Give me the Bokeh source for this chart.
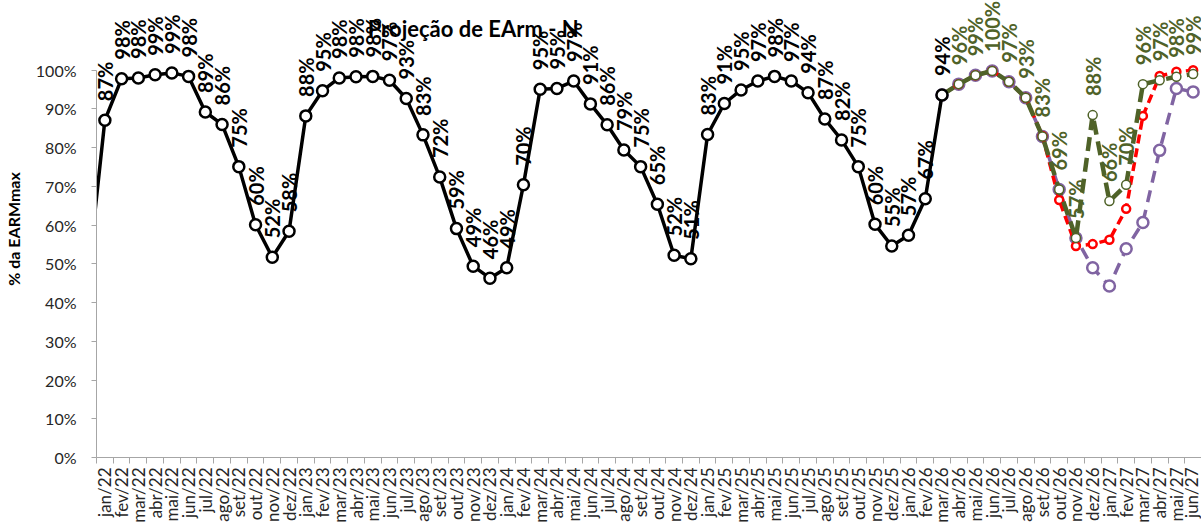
import math
from bokeh.plotting import figure
from bokeh.models import ColumnDataSource, LabelSet, Label, FixedTicker, NumeralTickFormatter, Range1d
from bokeh.core.properties import value
from bokeh.embed import file_html
from bokeh.resources import INLINE

# ---------------- data ----------------
month_names = ["jan", "fev", "mar", "abr", "mai", "jun", "jul", "ago", "set", "out", "nov", "dez"]
years = ["22", "23", "24", "25", "26", "27"]
categories = [f"{m}/{y}" for y in years for m in month_names][:66]   # jan/22 .. jun/27

# value of dez/21 (line enters from the left edge, point itself is off-axis)
earm_prev = [47.0]
# verified storage, jan/22 .. mar/26 (% EARmax)
earm_hist = [87.1, 97.8, 98.0, 98.8, 99.3, 98.4, 89.2, 86.0, 75.1, 60.1, 51.7, 58.4,
             88.2, 94.7, 98.0, 98.3, 98.4, 97.4, 92.7, 83.3, 72.4, 59.1, 49.4, 46.3,
             49.0, 70.4, 95.1, 95.3, 97.2, 91.3, 85.9, 79.4, 75.1, 65.4, 52.2, 51.3,
             83.4, 91.4, 94.9, 97.2, 98.4, 97.2, 94.2, 87.4, 82.0, 75.1, 60.2, 54.6,
             57.4, 66.8, 93.6]
# projections, mar/26 .. jun/27
proj_green = [93.6, 96.4, 98.7, 99.8, 97.0, 92.9, 82.9, 69.2, 56.7, 88.4, 66.2, 70.4, 96.4, 97.4, 98.3, 99.0]
proj_red = [93.6, 96.4, 98.7, 99.8, 97.0, 92.9, 83.0, 66.5, 54.6, 55.1, 56.2, 64.2, 88.2, 98.5, 99.6, 100.0]
proj_purple = [93.6, 96.4, 98.7, 99.8, 97.0, 92.9, 82.9, 69.2, 56.7, 49.0, 44.3, 53.9, 60.7, 79.3, 95.3, 94.4]
proj_start = categories.index("mar/26")

y_ticks = [0.0, 0.1, 0.2, 0.3, 0.4, 0.5, 0.6, 0.7, 0.8, 0.9, 1.0]
title_text = "Projeção de EArm - N"

# ---------------- figure ----------------
# frame spans the whole canvas height above the x axis; the visible value axis is bounded to 0..100%
p = figure(width=1201, height=525, x_range=Range1d(-0.5, 65.5), y_range=Range1d(0, 459 / 389),
           output_backend="svg", toolbar_location=None,
           min_border_left=93, min_border_right=0, min_border_top=0, min_border_bottom=66)
p.outline_line_color = None
p.grid.visible = False
p.background_fill_color = "white"

AX = "#a6a6a6"
FONT = "Lato"

xa = p.xaxis[0]
xa.ticker = FixedTicker(ticks=list(range(len(categories))),
                        minor_ticks=[i - 0.5 for i in range(len(categories) + 1)])
xa.major_label_overrides = {i: c for i, c in enumerate(categories)}
xa.major_label_orientation = math.pi / 2
xa.major_tick_out = 0
xa.major_tick_in = 0
xa.minor_tick_out = 6
xa.minor_tick_in = 0
xa.axis_line_color = AX
xa.minor_tick_line_color = AX
xa.major_label_text_font = FONT
xa.major_label_text_font_size = "17px"
xa.major_label_text_color = "#262626"
xa.major_label_standoff = 4

ya = p.yaxis[0]
ya.ticker = FixedTicker(ticks=y_ticks, minor_ticks=[])
ya.bounds = (0, 1)
ya.formatter = NumeralTickFormatter(format="0%")
ya.major_tick_out = 5
ya.major_tick_in = 0
ya.minor_tick_out = 0
ya.axis_line_color = AX
ya.major_tick_line_color = AX
ya.major_label_text_font = FONT
ya.major_label_text_font_size = "16px"
ya.major_label_text_color = "#262626"
ya.major_label_standoff = 15
ya.axis_label = "% da EARMmax"
ya.axis_label_text_font = FONT
ya.axis_label_text_font_style = "bold"
ya.axis_label_text_font_size = "16px"
ya.axis_label_text_color = "#000000"
ya.axis_label_standoff = 10

# ---------------- series ----------------
px = list(range(proj_start, proj_start + len(proj_green)))

def series(vals, xs, color, dash, lw, msize, mlw, fill):
    src = ColumnDataSource(dict(x=xs, y=[v / 100 for v in vals]))
    p.line("x", "y", source=src, line_color=color, line_width=lw, line_dash=dash)
    p.scatter("x", "y", source=src, marker="circle", size=msize, line_color=color,
              line_width=mlw, fill_color=fill)

series(proj_purple, px, "#8064A2", "12 8", 3.5, 11, 2.5, "white")
series(proj_red, px, "#FF0000", "9 5", 3.5, 8, 2.5, "white")
series(proj_green, px, "#4F6228", "14 7", 4.5, 9, 1.5, "white")

hx = [-1] + list(range(len(earm_hist)))
hv = earm_prev + earm_hist
hsrc = ColumnDataSource(dict(x=hx, y=[v / 100 for v in hv]))
p.line("x", "y", source=hsrc, line_color="black", line_width=3.5)
p.scatter("x", "y", source=hsrc, marker="circle", size=11, line_color="black",
          line_width=2.5, fill_color="white")

# ---------------- data labels ----------------
lab_h = ColumnDataSource(dict(x=list(range(len(earm_hist))), y=[v / 100 for v in earm_hist],
                              t=[f"{round(v)}%" for v in earm_hist]))
p.add_layout(LabelSet(x="x", y="y", text="t", source=lab_h, angle=math.pi / 2,
                      text_align="left", text_baseline="middle", y_offset=19,
                      text_font=value(FONT), text_font_style="bold", text_font_size="20px",
                      text_color="black"))
lab_g = ColumnDataSource(dict(x=px[1:], y=[v / 100 for v in proj_green[1:]],
                              t=[f"{round(v)}%" for v in proj_green[1:]]))
p.add_layout(LabelSet(x="x", y="y", text="t", source=lab_g, angle=math.pi / 2,
                      text_align="left", text_baseline="middle", y_offset=19,
                      text_font=value(FONT), text_font_style="bold", text_font_size="20px",
                      text_color="#4F6228"))

# ---------------- title (inside the frame, above the 100% line) ----------------
p.add_layout(Label(x=22.0, y=(459 - 28) / 389, text=title_text,
                   text_align="center", text_baseline="middle",
                   text_font=FONT, text_font_style="bold", text_font_size="22px",
                   text_color="black"))

open("out.html", "w").write(file_html(p, INLINE))
